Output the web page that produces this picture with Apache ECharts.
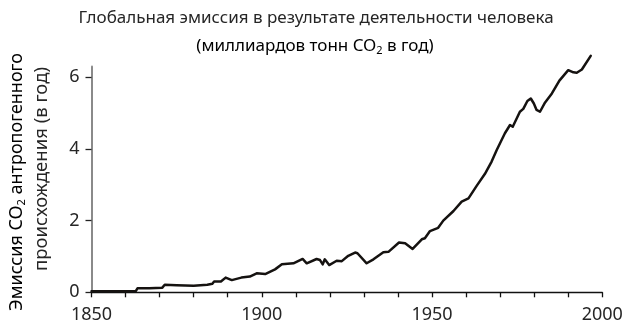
<!DOCTYPE html>
<html>
<head>
<meta charset="utf-8">
<script src="https://cdn.jsdelivr.net/npm/echarts@6/dist/echarts.min.js"></script>
<style>
html,body{margin:0;padding:0;background:#fff;}
#chart{width:629px;height:333px;}
</style>
</head>
<body>
<div id="chart"></div>
<script>
// Data
var years = [1850,1855,1860,1863,1863.5,1867,1870.8,1871.5,1875,1880,1884,1885.5,1886,1888,1889.4,1891.2,1894,1896.5,1898.5,1901,1903.9,1905.9,1909.3,1912,1913.2,1916.1,1917.1,1917.9,1918.5,1919.8,1922,1923.5,1925.4,1927.4,1928.1,1930.8,1932.8,1935.7,1937.2,1940.3,1942.1,1944.3,1947,1947.9,1949.4,1951.8,1953.3,1956.3,1958.7,1960.7,1963.1,1965.5,1967.5,1969,1971.4,1972.9,1973.7,1975.8,1976.8,1978,1979,1979.9,1980.7,1981.7,1983.2,1985.2,1987.4,1990,1991.5,1992.5,1994,1996.6];
var emissions = [0.03,0.03,0.03,0.03,0.11,0.11,0.13,0.21,0.20,0.18,0.21,0.24,0.30,0.30,0.41,0.34,0.41,0.44,0.53,0.51,0.64,0.78,0.81,0.93,0.81,0.93,0.90,0.78,0.92,0.76,0.88,0.87,1.02,1.11,1.09,0.81,0.92,1.12,1.13,1.39,1.37,1.21,1.48,1.51,1.71,1.80,2.00,2.27,2.53,2.62,2.97,3.30,3.65,3.97,4.44,4.67,4.62,5.04,5.12,5.34,5.41,5.27,5.09,5.04,5.30,5.55,5.91,6.20,6.14,6.13,6.22,6.60];
var xLabelYears = [1850,1900,1950,2000];
var yLabelValues = [0,2,4,6];
var titleLine1 = 'Глобальная эмиссия в результате деятельности человека';
var titleLine2a = '(миллиардов тонн CO';
var titleLine2b = ' в год)';
var yNameLine1a = 'Эмиссия CO';
var yNameLine1b = ' антропогенного';
var yNameLine2 = 'происхождения (в год)';

var seriesData = years.map(function(y,i){return [y, emissions[i]];});
var FONT = 'Noto Sans';
var TXT = '#262626';
var chart = echarts.init(document.getElementById('chart'), null, {renderer:'canvas'});
chart.setOption({
  animation:false,
  backgroundColor:'#fff',
  grid:{left:91.5,right:26.7,top:66.6,bottom:40.7},
  xAxis:{
    type:'value', min:1850, max:2000, interval:10,
    axisLine:{show:true,lineStyle:{color:'#111',width:1.3}},
    axisTick:{show:true,inside:false,length:5,lineStyle:{color:'#111',width:1.3}},
    axisLabel:{customValues:xLabelYears,margin:14,fontFamily:FONT,fontSize:18,color:TXT,
      formatter:function(v){return String(v);}},
    splitLine:{show:false}
  },
  yAxis:{
    type:'value', min:0, max:6.3,
    axisLine:{show:true,lineStyle:{color:'#8a8a8a',width:2}},
    axisTick:{show:true,customValues:yLabelValues,length:6,lineStyle:{color:'#222',width:1.3}},
    axisLabel:{customValues:yLabelValues,margin:12,fontFamily:FONT,fontSize:18,color:TXT,
      formatter:function(v){return String(v);}},
    splitLine:{show:false}
  },
  series:[{
    type:'line', data:seriesData, showSymbol:false, clip:false, smooth:false,
    lineStyle:{color:'#151210',width:2.5,join:'round',cap:'round'},
    z:3
  }],
  graphic:[
    {type:'text',x:316,y:18,style:{text:titleLine1,font:'17px "Noto Sans"',fill:TXT,align:'center',verticalAlign:'middle'}},
    {type:'text',x:315,y:46,style:{text:'{a|'+titleLine2a+'}{s|2}{a|'+titleLine2b+'}',align:'center',verticalAlign:'middle',
      rich:{a:{fontFamily:FONT,fontSize:17,color:TXT},s:{fontFamily:FONT,fontSize:11,color:TXT,padding:[9,0,0,0]}}}},
    {type:'text',x:17,y:182,rotation:Math.PI/2,style:{text:'{a|'+yNameLine1a+'}{s|2}{a|'+yNameLine1b+'}',align:'center',verticalAlign:'middle',
      rich:{a:{fontFamily:FONT,fontSize:18,color:TXT},s:{fontFamily:FONT,fontSize:11,color:TXT,padding:[9,0,0,0]}}}},
    {type:'text',x:42,y:169,rotation:Math.PI/2,style:{text:yNameLine2,align:'center',verticalAlign:'middle',font:'18.5px "Noto Sans"',fill:TXT}}
  ]
});
</script>
</body>
</html>
